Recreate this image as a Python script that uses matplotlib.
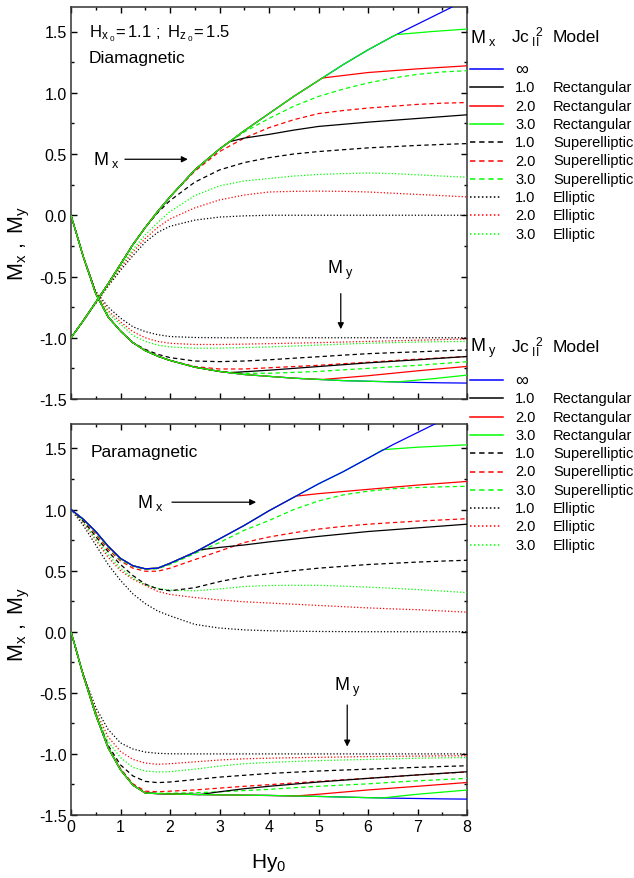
import matplotlib
matplotlib.use("Agg")
from matplotlib import pyplot as plt

plt.rcParams['font.family'] = ['Liberation Sans', 'DejaVu Sans']
plt.rcParams['mathtext.fontset'] = 'custom'
plt.rcParams['mathtext.rm'] = 'Liberation Sans'
plt.rcParams['mathtext.it'] = 'Liberation Sans:italic'
plt.rcParams['axes.unicode_minus'] = False

# common field grid (Hy0)
H = [0, 0.25, 0.5, 0.75, 1, 1.25, 1.5, 1.75, 2, 2.5, 3, 3.5, 4, 4.5, 5, 5.5, 6, 6.5, 7, 7.5, 8]

# ---- diamagnetic panel, Mx ----
dia_mx_inf = [-1.0, -0.86, -0.71, -0.56, -0.40, -0.24, -0.10, 0.03, 0.15, 0.37, 0.54, 0.69, 0.83, 0.97, 1.10, 1.23, 1.35, 1.46, 1.56, 1.66, 1.76]
dia_mx_rect1_h, dia_mx_rect1 = [3.2, 3.5, 4, 4.5, 5, 6, 7, 8], [0.60, 0.63, 0.66, 0.695, 0.725, 0.76, 0.79, 0.82]
dia_mx_rect2_h, dia_mx_rect2 = [5.07, 6, 7, 8], [1.12, 1.165, 1.195, 1.22]
dia_mx_rect3_h, dia_mx_rect3 = [6.58, 7.3, 8], [1.475, 1.50, 1.52]
dia_mx_sup1 = [-1.0, -0.86, -0.71, -0.56, -0.40, -0.24, -0.10, 0.02, 0.12, 0.27, 0.37, 0.43, 0.47, 0.50, 0.52, 0.535, 0.55, 0.56, 0.57, 0.578, 0.585]
dia_mx_sup2 = [-1.0, -0.86, -0.71, -0.56, -0.40, -0.24, -0.10, 0.03, 0.15, 0.36, 0.52, 0.63, 0.715, 0.78, 0.83, 0.855, 0.875, 0.89, 0.905, 0.915, 0.92]
dia_mx_sup3 = [-1.0, -0.86, -0.71, -0.56, -0.40, -0.24, -0.10, 0.03, 0.15, 0.37, 0.54, 0.68, 0.79, 0.89, 0.97, 1.03, 1.08, 1.12, 1.15, 1.17, 1.18]
dia_mx_ell1 = [-1.0, -0.86, -0.72, -0.58, -0.45, -0.33, -0.22, -0.14, -0.09, -0.04, -0.015, -0.005, 0, 0, 0, 0, 0, 0, 0, 0, 0]
dia_mx_ell2 = [-1.0, -0.86, -0.715, -0.575, -0.43, -0.30, -0.19, -0.10, -0.03, 0.06, 0.125, 0.165, 0.19, 0.195, 0.197, 0.195, 0.19, 0.18, 0.17, 0.16, 0.15]
dia_mx_ell3 = [-1.0, -0.86, -0.71, -0.57, -0.42, -0.28, -0.16, -0.06, 0.03, 0.16, 0.24, 0.28, 0.30, 0.32, 0.333, 0.34, 0.345, 0.34, 0.33, 0.32, 0.31]

# ---- diamagnetic panel, My ----
dia_my_inf = [0.0, -0.34, -0.64, -0.83, -0.945, -1.04, -1.105, -1.15, -1.185, -1.24, -1.275, -1.30, -1.315, -1.33, -1.34, -1.35, -1.355, -1.36, -1.365, -1.368, -1.37]
dia_my_rect1_h, dia_my_rect1 = [3.2, 4, 5, 6, 7, 8], [-1.285, -1.265, -1.235, -1.205, -1.18, -1.153]
dia_my_rect2_h, dia_my_rect2 = [5.07, 6, 7, 8], [-1.341, -1.31, -1.27, -1.234]
dia_my_rect3_h, dia_my_rect3 = [6.58, 7.3, 8], [-1.361, -1.335, -1.305]
dia_my_sup1 = [0.0, -0.34, -0.64, -0.83, -0.945, -1.04, -1.095, -1.135, -1.162, -1.19, -1.195, -1.19, -1.18, -1.167, -1.155, -1.142, -1.13, -1.122, -1.115, -1.107, -1.10]
dia_my_sup2 = [0.0, -0.34, -0.64, -0.83, -0.945, -1.04, -1.105, -1.15, -1.185, -1.235, -1.255, -1.255, -1.245, -1.235, -1.225, -1.212, -1.20, -1.187, -1.175, -1.164, -1.153]
dia_my_sup3 = [0.0, -0.34, -0.64, -0.83, -0.945, -1.04, -1.105, -1.15, -1.185, -1.24, -1.275, -1.29, -1.29, -1.283, -1.275, -1.262, -1.25, -1.237, -1.225, -1.21, -1.196]
dia_my_ell1 = [0.0, -0.34, -0.62, -0.75, -0.84, -0.91, -0.95, -0.975, -0.99, -0.998, -1.0, -1.0, -1.0, -1.0, -1.0, -1.0, -1.0, -1.0, -1.0, -1.0, -1.0]
dia_my_ell2 = [0.0, -0.34, -0.63, -0.78, -0.87, -0.95, -1.0, -1.03, -1.045, -1.055, -1.055, -1.052, -1.048, -1.044, -1.04, -1.035, -1.03, -1.025, -1.02, -1.015, -1.01]
dia_my_ell3 = [0.0, -0.34, -0.635, -0.80, -0.89, -0.98, -1.03, -1.06, -1.075, -1.085, -1.085, -1.08, -1.075, -1.068, -1.06, -1.052, -1.045, -1.04, -1.035, -1.032, -1.03]

# ---- paramagnetic panel, Mx ----
para_mx_inf = [1.0, 0.92, 0.82, 0.70, 0.60, 0.54, 0.515, 0.52, 0.56, 0.65, 0.76, 0.87, 0.99, 1.10, 1.21, 1.31, 1.42, 1.53, 1.63, 1.73, 1.83]
para_mx_rect1_h, para_mx_rect1 = [2.6, 3, 3.5, 4, 5, 6, 7, 8], [0.67, 0.69, 0.71, 0.735, 0.78, 0.82, 0.85, 0.88]
para_mx_rect2_h, para_mx_rect2 = [4.55, 5, 6, 7, 8], [1.11, 1.13, 1.165, 1.20, 1.23]
para_mx_rect3_h, para_mx_rect3 = [6.3, 7, 8], [1.49, 1.51, 1.53]
para_mx_sup1 = [1.0, 0.905, 0.78, 0.655, 0.55, 0.46, 0.39, 0.35, 0.335, 0.36, 0.41, 0.45, 0.475, 0.50, 0.52, 0.535, 0.55, 0.56, 0.57, 0.578, 0.585]
para_mx_sup2 = [1.0, 0.915, 0.80, 0.675, 0.58, 0.52, 0.495, 0.495, 0.52, 0.59, 0.66, 0.73, 0.775, 0.81, 0.84, 0.862, 0.88, 0.893, 0.905, 0.915, 0.925]
para_mx_sup3 = [1.0, 0.92, 0.81, 0.69, 0.59, 0.535, 0.51, 0.515, 0.55, 0.64, 0.73, 0.83, 0.91, 1.0, 1.07, 1.12, 1.15, 1.17, 1.18, 1.186, 1.19]
para_mx_ell1 = [1.0, 0.87, 0.71, 0.55, 0.42, 0.31, 0.23, 0.17, 0.13, 0.06, 0.03, 0.015, 0.008, 0.004, 0.002, 0.001, 0, 0, 0, 0, 0]
para_mx_ell2 = [1.0, 0.89, 0.75, 0.61, 0.50, 0.43, 0.38, 0.33, 0.305, 0.28, 0.26, 0.245, 0.235, 0.225, 0.215, 0.205, 0.195, 0.187, 0.18, 0.17, 0.16]
para_mx_ell3 = [1.0, 0.895, 0.76, 0.63, 0.52, 0.44, 0.385, 0.355, 0.34, 0.335, 0.35, 0.37, 0.378, 0.38, 0.38, 0.373, 0.365, 0.355, 0.345, 0.333, 0.32]

# ---- paramagnetic panel, My ----
para_my_inf = [0.0, -0.36, -0.68, -0.95, -1.13, -1.255, -1.32, -1.325, -1.328, -1.332, -1.335, -1.338, -1.34, -1.344, -1.348, -1.353, -1.358, -1.362, -1.365, -1.368, -1.37]
para_my_rect1_h, para_my_rect1 = [2.6, 3, 3.5, 4, 5, 6, 7, 8], [-1.333, -1.31, -1.285, -1.265, -1.23, -1.20, -1.172, -1.146]
para_my_rect2_h, para_my_rect2 = [4.55, 5, 6, 7, 8], [-1.344, -1.33, -1.295, -1.265, -1.234]
para_my_rect3_h, para_my_rect3 = [6.3, 7, 8], [-1.36, -1.33, -1.296]
para_my_sup1 = [0.0, -0.36, -0.68, -0.93, -1.09, -1.18, -1.225, -1.235, -1.23, -1.21, -1.19, -1.175, -1.16, -1.15, -1.14, -1.132, -1.125, -1.117, -1.11, -1.103, -1.097]
para_my_sup2 = [0.0, -0.36, -0.68, -0.95, -1.12, -1.245, -1.305, -1.31, -1.305, -1.295, -1.28, -1.265, -1.252, -1.238, -1.225, -1.212, -1.20, -1.186, -1.172, -1.16, -1.148]
para_my_sup3 = [0.0, -0.36, -0.68, -0.95, -1.13, -1.255, -1.318, -1.322, -1.322, -1.318, -1.31, -1.30, -1.29, -1.277, -1.265, -1.255, -1.245, -1.232, -1.22, -1.21, -1.20]
para_my_ell1 = [0.0, -0.35, -0.62, -0.80, -0.91, -0.96, -0.985, -0.995, -0.999, -1.0, -1.0, -1.0, -1.0, -1.0, -1.0, -1.0, -1.0, -1.0, -1.0, -1.0, -1.0]
para_my_ell2 = [0.0, -0.355, -0.65, -0.86, -0.98, -1.045, -1.075, -1.085, -1.08, -1.065, -1.05, -1.04, -1.035, -1.031, -1.028, -1.025, -1.022, -1.02, -1.018, -1.016, -1.015]
para_my_ell3 = [0.0, -0.36, -0.66, -0.90, -1.03, -1.11, -1.14, -1.148, -1.145, -1.125, -1.10, -1.08, -1.07, -1.062, -1.055, -1.05, -1.045, -1.04, -1.035, -1.032, -1.03]

# legend texts
jc_values = ['\u221e', '1.0', '2.0', '3.0', '1.0', '2.0', '3.0', '1.0', '2.0', '3.0']
model_names = ['', 'Rectangular', 'Rectangular', 'Rectangular', 'Superelliptic', 'Superelliptic',
               'Superelliptic', 'Elliptic', 'Elliptic', 'Elliptic']

GREEN = '#00ff00'
colors = ['#0000ff', 'black', '#ff0000', GREEN, 'black', '#ff0000', GREEN, 'black', '#ff0000', GREEN]
SOLID, DASH, DOT = None, (3.5, 2.5), (1.0, 1.6)
dashes = [SOLID] * 4 + [DASH] * 3 + [DOT] * 3
LW = 0.9


def rect_curve(base, h_tail, m_tail):
    h = [x for x in H if x < h_tail[0]] + h_tail
    m = [v for x, v in zip(H, base) if x < h_tail[0]] + m_tail
    return h, m


def draw_set(ax, inf, rects, sups, ells, blue_on_top=False):
    curves = [(H, inf)] + [rect_curve(inf, h, m) for h, m in rects] + [(H, s) for s in sups] + [(H, e) for e in ells]
    order = [7, 8, 9, 4, 5, 6, 0, 1, 2, 3]
    for i in order:
        h, m = curves[i]
        z = 3 + order.index(i)
        if i == 0 and blue_on_top:
            z = 20
        line, = ax.plot(h, m, color=colors[i], lw=LW, zorder=z)
        if dashes[i] is not None:
            line.set_dashes(dashes[i])


fig = plt.figure(figsize=(6.34, 8.79), dpi=100)
W, Hpx = 634.0, 879.0
ax1 = fig.add_axes([71 / W, 1 - 400 / Hpx, 396 / W, 392 / Hpx])
ax2 = fig.add_axes([71 / W, 1 - 816 / Hpx, 396 / W, 391 / Hpx])

draw_set(ax1, dia_mx_inf,
         [(dia_mx_rect1_h, dia_mx_rect1), (dia_mx_rect2_h, dia_mx_rect2), (dia_mx_rect3_h, dia_mx_rect3)],
         [dia_mx_sup1, dia_mx_sup2, dia_mx_sup3], [dia_mx_ell1, dia_mx_ell2, dia_mx_ell3])
draw_set(ax1, dia_my_inf,
         [(dia_my_rect1_h, dia_my_rect1), (dia_my_rect2_h, dia_my_rect2), (dia_my_rect3_h, dia_my_rect3)],
         [dia_my_sup1, dia_my_sup2, dia_my_sup3], [dia_my_ell1, dia_my_ell2, dia_my_ell3])
draw_set(ax2, para_mx_inf,
         [(para_mx_rect1_h, para_mx_rect1), (para_mx_rect2_h, para_mx_rect2), (para_mx_rect3_h, para_mx_rect3)],
         [para_mx_sup1, para_mx_sup2, para_mx_sup3], [para_mx_ell1, para_mx_ell2, para_mx_ell3], blue_on_top=True)
draw_set(ax2, para_my_inf,
         [(para_my_rect1_h, para_my_rect1), (para_my_rect2_h, para_my_rect2), (para_my_rect3_h, para_my_rect3)],
         [para_my_sup1, para_my_sup2, para_my_sup3], [para_my_ell1, para_my_ell2, para_my_ell3])

ylab = r'$\mathregular{M_x\ ,\ M_y}$'
for ax in (ax1, ax2):
    ax.set_xlim(0, 8)
    ax.set_ylim(-1.5, 1.7)
    ax.set_xticks(range(9))
    ax.set_xticks([x + 0.5 for x in range(8)], minor=True)
    ax.set_yticks([-1.5, -1.0, -0.5, 0.0, 0.5, 1.0, 1.5])
    ax.set_yticks([-1.25, -0.75, -0.25, 0.25, 0.75, 1.25], minor=True)
    ax.yaxis.set_major_formatter(matplotlib.ticker.FormatStrFormatter('%.1f'))
    ax.tick_params(which='both', direction='in', top=True, right=True, width=1.0, labelsize=11.5, pad=3)
    ax.tick_params(which='major', length=4.5)
    ax.tick_params(which='minor', length=2.5)
    for s in ax.spines.values():
        s.set_linewidth(1.1)
        s.set_color('#333333')
    ax.set_ylabel(ylab, fontsize=15.5)

ax1.tick_params(labelbottom=False)
ax1.yaxis.set_label_coords(-0.098, 0.40)
ax2.yaxis.set_label_coords(-0.098, 0.49)
ax2.set_xlabel(r'$\mathregular{Hy_0}$', fontsize=15, labelpad=12)

# panel texts
ax1.text(0.045, 0.935, r'$\mathregular{H_{x_{\ 0}}\!=1.1\ ;\ H_{z_{\ 0}}\!=1.5}$', transform=ax1.transAxes,
         fontsize=12, va='center', ha='left')
ax1.text(0.045, 0.87, 'Diamagnetic', transform=ax1.transAxes, fontsize=12.5, va='center', ha='left')
ax2.text(0.05, 0.93, 'Paramagnetic', transform=ax2.transAxes, fontsize=12.5, va='center', ha='left')

arrow = dict(arrowstyle='-|>', color='black', lw=0.9, mutation_scale=9, shrinkA=0, shrinkB=0)
ax1.annotate('', xy=(2.36, 0.457), xytext=(1.09, 0.457), arrowprops=arrow)
ax1.text(0.44, 0.457, r'$\mathregular{M_{\ x}}$', fontsize=13, va='center', ha='left')
ax1.annotate('', xy=(5.45, -0.93), xytext=(5.45, -0.64), arrowprops=arrow)
ax1.text(5.45, -0.44, r'$\mathregular{M_{\ y}}$', fontsize=13, va='center', ha='center')
ax2.annotate('', xy=(3.74, 1.06), xytext=(2.04, 1.06), arrowprops=arrow)
ax2.text(1.33, 1.06, r'$\mathregular{M_{\ x}}$', fontsize=13, va='center', ha='left')
ax2.annotate('', xy=(5.58, -0.94), xytext=(5.58, -0.60), arrowprops=arrow)
ax2.text(5.58, -0.45, r'$\mathregular{M_{\ y}}$', fontsize=13, va='center', ha='center')


# legends drawn beside each panel (pixel layout)
def fx(px):
    return px / W


def fy(py):
    return 1 - py / Hpx


def draw_legend(comp, y_head, y_first, dy=18.3):
    fig.text(fx(470), fy(y_head), r'$\mathregular{M_{\ %s}}$' % comp, fontsize=13, va='center', ha='left')
    fig.text(fx(511), fy(y_head), r'$\mathregular{Jc_{\ II}^{\ \ 2}}$', fontsize=12.5, va='center', ha='left')
    fig.text(fx(553), fy(y_head), 'Model', fontsize=12.5, va='center', ha='left')
    for i in range(10):
        yy = fy(y_first + i * dy)
        x_end = 503 if dashes[i] is not DOT else 500
        ln = matplotlib.lines.Line2D([fx(470), fx(x_end)], [yy, yy], color=colors[i], lw=LW + 0.2,
                                     transform=fig.transFigure)
        if dashes[i] is not None:
            ln.set_dashes(dashes[i])
        fig.add_artist(ln)
        fig.text(fx(515), yy, jc_values[i], fontsize=13 if i == 0 else 10.5, va='center', ha='left')
        fig.text(fx(553), yy, model_names[i], fontsize=10.5, va='center', ha='left')


draw_legend('x', 38, 70)
draw_legend('y', 348, 381)

fig.savefig('out.png', dpi=100)
